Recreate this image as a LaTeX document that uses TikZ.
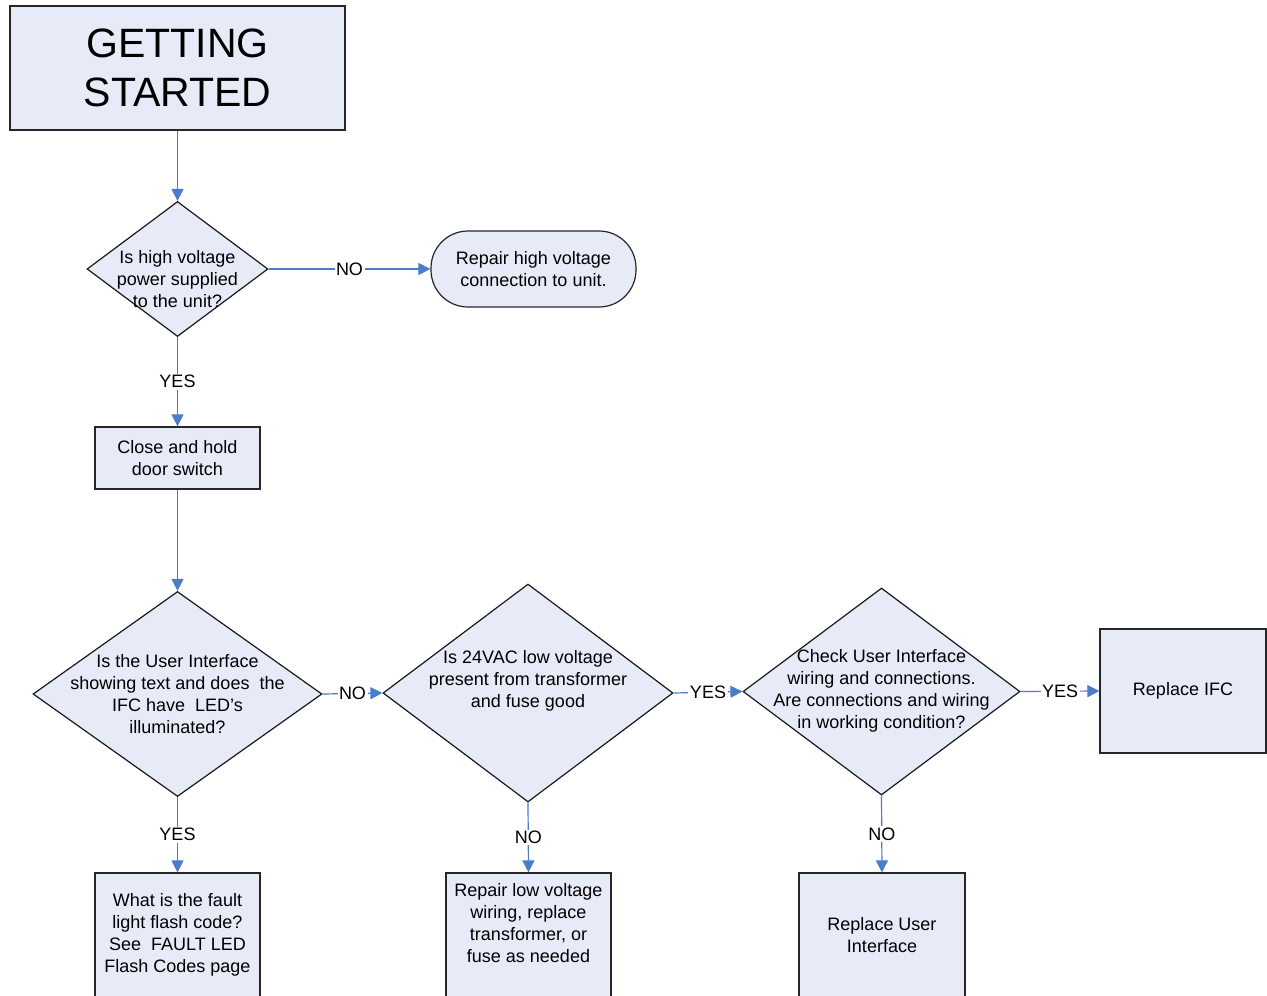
\documentclass[tikz,border=0pt]{standalone}
\usepackage{fontspec}
\setmainfont{Liberation Sans}
\usetikzlibrary{shapes.geometric,arrows.meta}
\definecolor{boxfill}{HTML}{E6EBF7}
\definecolor{linkblue}{HTML}{4A7CC8}
\newcommand\bodyfont{\fontsize{18}{22}\selectfont}
\newcommand\titlefont{\fontsize{41}{49}\selectfont}
\begin{document}
\begin{tikzpicture}[x=1pt,y=-1pt,
  box/.style={draw=black!85, line width=1.2pt, fill=boxfill, inner sep=0pt, align=center, font=\bodyfont},
  dia/.style={diamond, draw=black!90, line width=1.2pt, fill=boxfill, inner sep=0pt},
  txt/.style={align=center, font=\bodyfont, inner sep=0pt},
  conn/.style={draw=linkblue, line width=1.2pt, -{Triangle[length=12pt,width=12pt]}},
  lab/.style={fill=white, inner sep=1.5pt, font=\bodyfont}]
\useasboundingbox (0,0) rectangle (1267,996);
\clip (0,0) rectangle (1267,996);
\fill[white] (0,0) rectangle (1267,996);

% title
\node[box, minimum width=335pt, minimum height=124pt, font=\titlefont] (start) at (177.5,68) {GETTING\\STARTED};

% diamond 1
\node[dia, minimum width=181pt, minimum height=135pt] (d1) at (177.5,269) {};
\node[txt] (d1t) at (177.5,279) {Is high voltage\\power supplied\\to the unit?};

% repair high voltage
\node[box, rounded corners=37pt, minimum width=205pt, minimum height=76pt] (rep) at (533.5,269) {Repair high voltage\\connection to unit.};

% close and hold
\node[box, minimum width=165pt, minimum height=62pt] (close) at (177.5,458) {Close and hold\\door switch};

% diamond 2
\node[dia, minimum width=289pt, minimum height=205pt] (d2) at (177.5,694) {};
\node[txt] (d2t) at (177.5,694) {Is the User Interface\\showing text and does\ \ the\\IFC have\ \ LED’s\\illuminated?};

% diamond 3
\node[dia, minimum width=290pt, minimum height=218pt] (d3) at (528,693) {};
\node[txt] (d3t) at (528,681) {Is 24VAC low voltage\\present from transformer\\and fuse good};

% diamond 4
\node[dia, minimum width=277pt, minimum height=207pt] (d4) at (881.5,691.5) {};
\node[txt] (d4t) at (881.5,691) {Check User Interface\\wiring and connections.\\Are connections and wiring\\in working condition?};

% replace IFC
\node[box, minimum width=166pt, minimum height=124pt] (ifc) at (1183,691) {Replace IFC};

% bottom boxes (cut off by page edge)
\node[box, minimum width=165pt, minimum height=140pt] (fault) at (177.5,943) {};
\node[txt] (faultt) at (177.5,935) {What is the fault\\light flash code?\\See\ \ FAULT LED\\Flash Codes page};
\node[box, minimum width=165pt, minimum height=140pt] (low) at (528.5,943) {};
\node[txt] (lowt) at (528.5,923) {Repair low voltage\\wiring, replace\\transformer, or\\fuse as needed};
\node[box, minimum width=166pt, minimum height=140pt] (ui) at (882,943) {};
\node[txt] (uit) at (882,935) {Replace User\\Interface};

% connectors
\draw[conn] (start) -- (d1.north);
\draw[conn] (d1.east) -- node[lab] (l1) {NO} (rep.west);
\draw[conn] (d1.south) -- node[lab] (l2) {YES} (close.north);
\draw[conn] (close.south) -- (d2.north);
\draw[conn] (d2.east) -- node[lab] (l3) {NO} (d3.west);
\draw[conn] (d3.east) -- node[lab] (l4) {YES} (d4.west);
\draw[conn] (d4.east) -- node[lab] (l5) {YES} (ifc.west);
\draw[conn] (d2.south) -- node[lab] (l6) {YES} (fault.north);
\draw[conn] (d3.south) -- node[lab] (l7) {NO} (low.north);
\draw[conn] (d4.south) -- node[lab] (l8) {NO} (ui.north);
\end{tikzpicture}
\end{document}
